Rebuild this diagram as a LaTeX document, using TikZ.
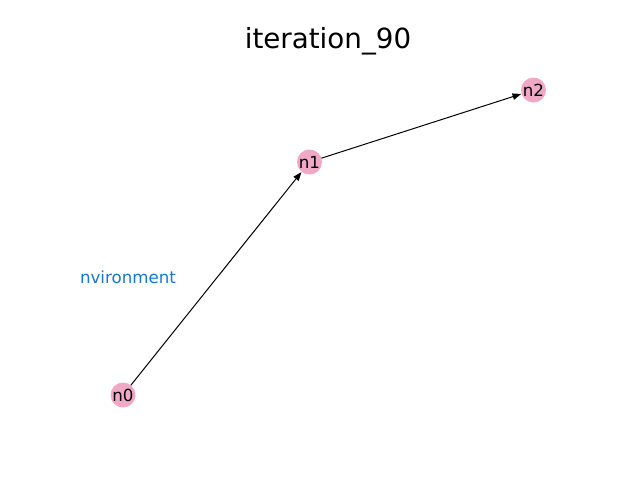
\documentclass[tikz,border=0pt]{standalone}
\usepackage{fontspec}
\setmainfont{DejaVu Sans}
\usetikzlibrary{arrows.meta}
\definecolor{nodepink}{RGB}{241,168,198}
\definecolor{envblue}{RGB}{24,118,210}
\tikzset{
  gnode/.style={circle, fill=nodepink, draw=none, minimum size=18.75pt, inner sep=0pt, outer sep=0pt, font=\fontsize{12.5}{14}\selectfont},
  gedge/.style={line width=0.75pt, -{Stealth[length=6.5pt, width=4.8pt, inset=0pt]}, shorten >=0.3pt},
}
\begin{document}
\begin{tikzpicture}[x=0.75pt, y=-0.75pt]
\useasboundingbox (0,0) rectangle (640,480);
\node[font=\fontsize{20.8}{24}\selectfont, anchor=base] (title) at (328,48) {iteration\_90};
\node[gnode] (n0) at (123,395) {n0};
\node[gnode] (n1) at (309.5,162) {n1};
\node[gnode] (n2) at (533.5,90) {n2};
\node[font=\fontsize{12.5}{14}\selectfont, text=envblue] (env) at (128,277) {nvironment};
\draw[gedge] (n0) -- (n1);
\draw[gedge] (n1) -- (n2);
\end{tikzpicture}
\end{document}
